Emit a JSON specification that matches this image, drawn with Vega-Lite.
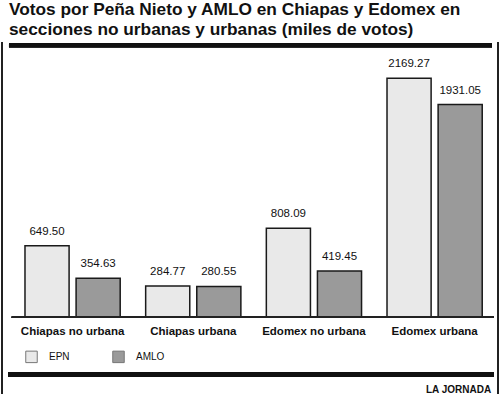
{
  "$schema": "https://vega.github.io/schema/vega-lite/v6.json",
  "width": 496,
  "height": 351,
  "autosize": {"type": "none"},
  "padding": {"left": 2, "top": 43, "right": 2, "bottom": 0},
  "background": "white",
  "config": {"view": {"stroke": null}, "font": "Liberation Sans"},
  "title": {
    "text": ["Votos por Peña Nieto y AMLO en Chiapas y Edomex en", "secciones no urbanas y urbanas (miles de votos)"],
    "anchor": "start",
    "frame": "group",
    "dx": 7,
    "fontSize": 17.3,
    "font": "Liberation Sans",
    "fontWeight": "bold",
    "color": "#111111",
    "lineHeight": 19.5,
    "offset": 3
  },
  "data": {
    "values": [
      {"seccion": "Chiapas no urbana", "candidato": "EPN", "votos": 649.50},
      {"seccion": "Chiapas no urbana", "candidato": "AMLO", "votos": 354.63},
      {"seccion": "Chiapas urbana", "candidato": "EPN", "votos": 284.77},
      {"seccion": "Chiapas urbana", "candidato": "AMLO", "votos": 280.55},
      {"seccion": "Edomex no urbana", "candidato": "EPN", "votos": 808.09},
      {"seccion": "Edomex no urbana", "candidato": "AMLO", "votos": 419.45},
      {"seccion": "Edomex urbana", "candidato": "EPN", "votos": 2169.27},
      {"seccion": "Edomex urbana", "candidato": "AMLO", "votos": 1931.05}
    ]
  },
  "layer": [
    {
      "encoding": {
        "x": {
          "field": "seccion",
          "type": "nominal",
          "sort": ["Chiapas no urbana", "Chiapas urbana", "Edomex no urbana", "Edomex urbana"],
          "scale": {"paddingInner": 0.211, "paddingOuter": 0.1606, "align": 0.593},
          "axis": {
            "title": "LA JORNADA",
            "orient": "bottom",
            "offset": -70,
            "domain": false,
            "ticks": false,
            "tickSize": 0,
            "labelFontSize": 11.5,
            "labelFontWeight": "bold",
            "labelColor": "#111111",
            "labelBaseline": "alphabetic",
            "labelPadding": 10,
            "labelAngle": 0,
            "labelLimit": 0,
            "titleFontSize": 10,
            "titleFontWeight": "bold",
            "titleColor": "#111111",
            "titleX": 488.7,
            "titleY": 68.7,
            "titleAlign": "right",
            "titleBaseline": "alphabetic",
            "titleAngle": 0
          }
        },
        "xOffset": {
          "field": "candidato",
          "type": "nominal",
          "sort": ["EPN", "AMLO"],
          "scale": {"paddingInner": 0.137, "paddingOuter": 0}
        },
        "y": {
          "field": "votos",
          "type": "quantitative",
          "scale": {"domain": [-696, 2490], "nice": false, "zero": false},
          "axis": null
        }
      },
      "layer": [
        {
          "mark": {"type": "bar", "stroke": "#1a1a1a", "strokeWidth": 1.5},
          "encoding": {
            "y2": {"datum": 0},
            "fill": {
              "field": "candidato",
              "type": "nominal",
              "sort": ["EPN", "AMLO"],
              "scale": {"domain": ["EPN", "AMLO"], "range": ["#e9e9e9", "#9a9a9a"]},
              "legend": {
                "title": null,
                "orient": "none",
                "legendX": 23,
                "legendY": 307,
                "direction": "horizontal",
                "symbolType": "square",
                "symbolSize": 132,
                "symbolStrokeColor": "#777777",
                "symbolStrokeWidth": 1,
                "labelFontSize": 10,
                "labelColor": "#111111",
                "labelOffset": 11,
                "columnPadding": 40,
                "padding": 0
              }
            }
          }
        },
        {
          "mark": {"type": "text", "dy": -11, "baseline": "alphabetic", "fontSize": 11.5, "color": "#111111"},
          "encoding": {
            "text": {"field": "votos", "type": "quantitative", "format": ".2f"}
          }
        }
      ]
    },
    {
      "layer": [
        {
          "mark": {"type": "rule", "strokeWidth": 1.5, "color": "#222222"},
          "encoding": {
            "x": {"datum": 0, "type": "quantitative", "scale": {"domain": [0, 1], "nice": false, "zero": false}, "axis": null},
            "y": {"datum": 2499, "type": "quantitative"},
            "y2": {"datum": -696}
          }
        },
        {
          "mark": {"type": "rule", "strokeWidth": 1.5, "color": "#222222"},
          "encoding": {
            "x": {"datum": 1, "type": "quantitative"},
            "y": {"datum": 2499, "type": "quantitative"},
            "y2": {"datum": -696}
          }
        },
        {
          "mark": {"type": "rule", "strokeWidth": 4, "color": "#111111"},
          "encoding": {
            "x": {"datum": 0.0141, "type": "quantitative"},
            "x2": {"datum": 0.9879},
            "y": {"datum": 2469, "type": "quantitative"}
          }
        },
        {
          "mark": {"type": "rule", "strokeWidth": 4.5, "color": "#111111"},
          "encoding": {
            "x": {"datum": 0.0127, "type": "quantitative"},
            "x2": {"datum": 0.9919},
            "y": {"datum": -519, "type": "quantitative"}
          }
        },
        {
          "mark": {"type": "rule", "strokeWidth": 1.5, "color": "#222222"},
          "encoding": {
            "x": {"datum": 0.0196, "type": "quantitative"},
            "x2": {"datum": 0.9919},
            "y": {"datum": 0, "type": "quantitative"}
          }
        }
      ]
    }
  ],
  "resolve": {"scale": {"x": "independent"}, "axis": {"x": "independent"}}
}
